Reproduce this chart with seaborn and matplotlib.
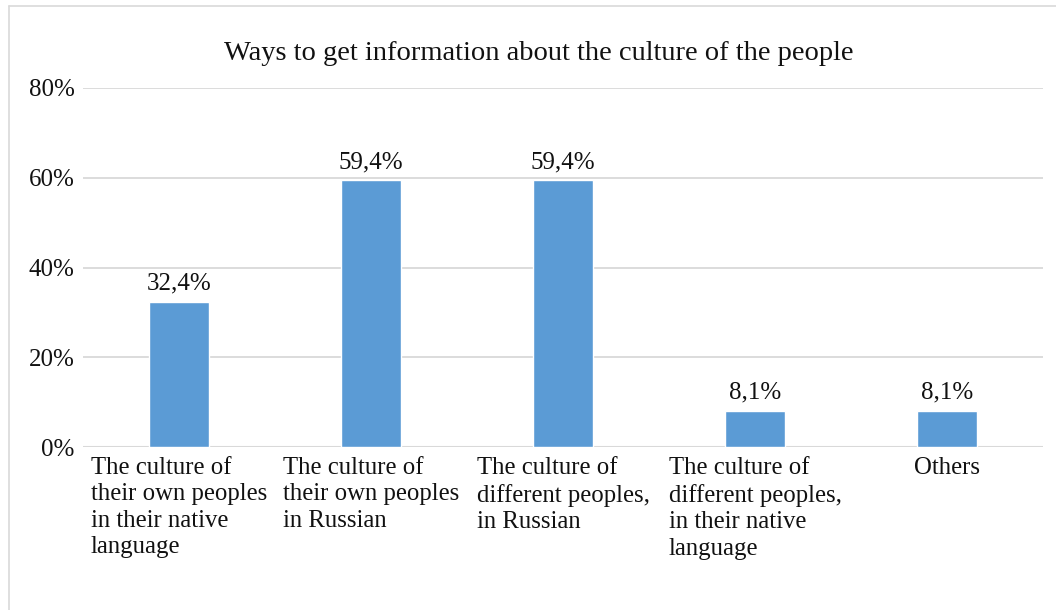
import matplotlib
matplotlib.use("Agg")
import matplotlib.pyplot as plt
import seaborn as sns
import pandas as pd
from matplotlib.lines import Line2D

categories = [
    "The culture of\ntheir own peoples\nin their native\nlanguage",
    "The culture of\ntheir own peoples\nin Russian",
    "The culture of\ndifferent peoples,\nin Russian",
    "The culture of\ndifferent peoples,\nin their native\nlanguage",
    "Others",
]
values = [0.324, 0.594, 0.594, 0.081, 0.081]
value_labels = ["32,4%", "59,4%", "59,4%", "8,1%", "8,1%"]
y_ticks = [0, 0.2, 0.4, 0.6, 0.8]
y_tick_labels = ["0%", "20%", "40%", "60%", "80%"]
title = "Ways to get information about the culture of the people"

sns.set_theme(style="white")
plt.rcParams["font.family"] = ["Liberation Serif", "DejaVu Serif"]

df = pd.DataFrame({"cat": categories, "val": values})

fig = plt.figure(figsize=(10.56, 6.10), dpi=100)
ax = fig.add_axes([83/1056, 1-447/610, (1043-83)/1056, (447-88)/610])

sns.barplot(data=df, x="cat", y="val", color="#5B9BD5", width=0.315,
            saturation=1, ax=ax, zorder=3)

ax.set_ylim(0, 0.8)
ax.set_xlim(-0.5, len(categories) - 0.5)
ax.set_yticks(y_ticks)
ax.set_yticklabels(y_tick_labels, fontsize=18, color="#111111")
ax.yaxis.grid(True, color="#D9D9D9", linewidth=1.3, zorder=0)
ax.set_axisbelow(True)
ax.tick_params(axis="y", length=0, pad=6)
ax.tick_params(axis="x", length=0, pad=7)
ax.set_xlabel("")
ax.set_ylabel("")
for s in ax.spines.values():
    s.set_visible(False)
ax.axhline(0, color="#D9D9D9", linewidth=1.5, zorder=1)

ax.set_xticks(range(len(categories)))
ax.set_xticklabels(categories, fontsize=17.8, color="#111111",
                   multialignment="left", va="top", linespacing=1.27)

for i, (v, lab) in enumerate(zip(values, value_labels)):
    ax.annotate(lab, (i, v), xytext=(0, 5), textcoords="offset points",
                ha="center", va="bottom", fontsize=18, color="#111111")

fig.text(538.5/1056, 1 - 54/610, title, ha="center", va="center",
         fontsize=20.5, color="#111111")

# chart border (top and left visible)
fig.add_artist(Line2D([9/1056, 1.0], [1-6/610, 1-6/610],
                      transform=fig.transFigure, color="#D9D9D9", linewidth=1.2))
fig.add_artist(Line2D([9/1056, 9/1056], [0, 1-6/610],
                      transform=fig.transFigure, color="#D9D9D9", linewidth=1.2))

fig.savefig("out.png", dpi=100, facecolor="white")
